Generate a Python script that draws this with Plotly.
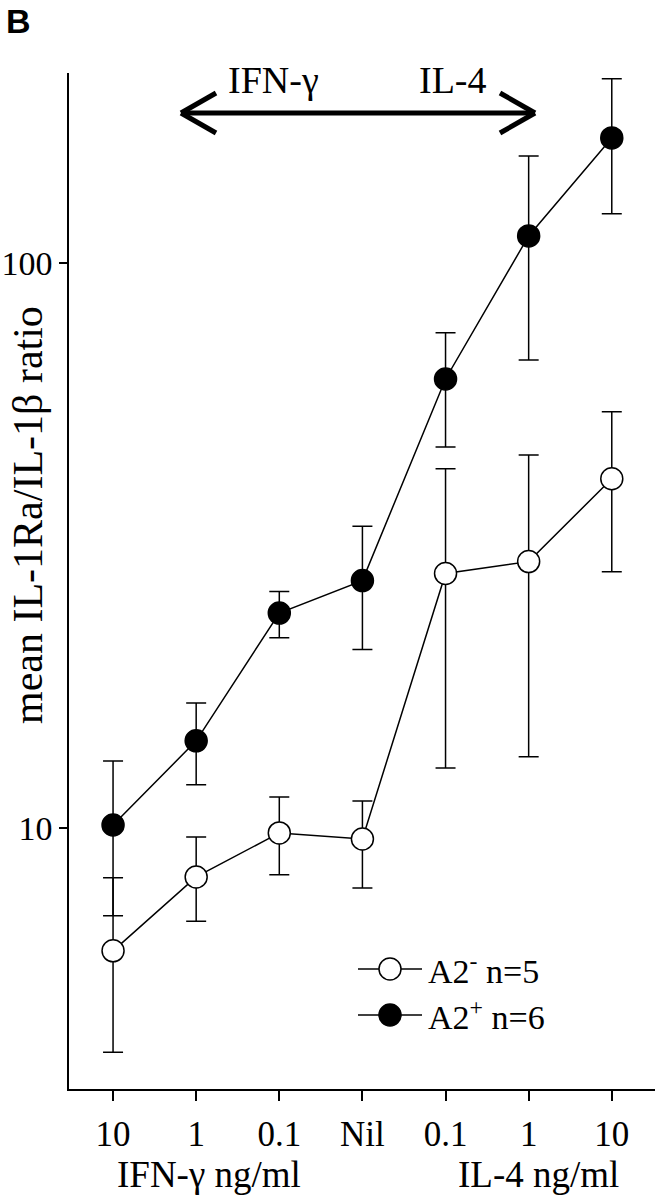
import plotly.graph_objects as go

# Categories (x positions 0..6)
tick_labels = ["10", "1", "0.1", "Nil", "0.1", "1", "10"]
xpos = [0, 1, 2, 3, 4, 5, 6]

# A2- (open circles)
a2neg_mean = [6.06, 8.19, 9.80, 9.56, 28.2, 29.6, 41.5]
a2neg_upper = [8.16, 9.64, 11.34, 11.16, 43.2, 45.7, 54.5]
a2neg_lower = [4.01, 6.84, 8.26, 7.83, 12.77, 13.36, 28.4]

# A2+ (filled circles)
a2pos_mean = [10.12, 14.26, 24.0, 27.4, 62.3, 111.6, 166.4]
a2pos_upper = [13.14, 16.64, 26.2, 34.2, 75.2, 154.6, 211.7]
a2pos_lower = [6.99, 11.92, 21.7, 20.7, 47.2, 67.3, 122.1]

series_names = ["A2<sup>-</sup> n=5", "A2<sup>+</sup> n=6"]
series_fill = ["white", "black"]

FONT = "Liberation Serif"
W, H = 658, 1199


def px(sx):  # window x -> paper x
    return (sx - 69) / 586


def py(sy):  # window y -> paper y
    return (1089 - sy) / 1016


def err(mean, up, lo):
    return dict(type="data", symmetric=False,
                array=[u - m for u, m in zip(up, mean)],
                arrayminus=[m - l for m, l in zip(mean, lo)],
                color="black", thickness=1.5, width=10)


fig = go.Figure()
for mean, up, lo, name, fill in [
    (a2neg_mean, a2neg_upper, a2neg_lower, series_names[0], series_fill[0]),
    (a2pos_mean, a2pos_upper, a2pos_lower, series_names[1], series_fill[1]),
]:
    fig.add_trace(go.Scatter(
        x=xpos, y=mean, mode="lines+markers", name=name, showlegend=False,
        line=dict(color="black", width=1.5),
        marker=dict(symbol="circle", size=22, color=fill,
                    line=dict(color="black", width=1.5)),
        error_y=err(mean, up, lo),
    ))

# Manual legend (paper coordinates)
leg_x0, leg_x1 = px(358), px(422)
leg_xc = (leg_x0 + leg_x1) / 2
for i, (name, fill) in enumerate(zip(series_names, series_fill)):
    yy = py(969 + i * 46)
    fig.add_shape(type="line", xref="paper", yref="paper", x0=leg_x0, x1=leg_x1,
                  y0=yy, y1=yy, line=dict(color="black", width=1.5))
    fig.add_shape(type="circle", xref="paper", yref="paper",
                  xsizemode="pixel", ysizemode="pixel", xanchor=leg_xc, yanchor=yy,
                  x0=-11, x1=11, y0=-11, y1=11,
                  fillcolor=fill, line=dict(color="black", width=1.5))
    fig.add_annotation(text=name, xref="paper", yref="paper", x=px(426), y=yy,
                       xanchor="left", yanchor="middle", showarrow=False,
                       font=dict(family=FONT, size=34, color="black"))

# Double-headed arrow (IFN-γ <-> IL-4)
ay = py(113)
x_l, x_r = px(181), px(535)
arrow_w = 5
fig.add_shape(type="line", xref="paper", yref="paper", x0=x_l, x1=x_r, y0=ay, y1=ay,
              line=dict(color="black", width=arrow_w))
head_dx = 35 / 586
head_dy = 20 / 1016
for xt, sgn in [(x_l, 1), (x_r, -1)]:
    for s in (1, -1):
        fig.add_shape(type="line", xref="paper", yref="paper",
                      x0=xt, y0=ay, x1=xt + sgn * head_dx, y1=ay + s * head_dy,
                      line=dict(color="black", width=arrow_w))

fig.add_annotation(text="IFN-γ", xref="paper", yref="paper", x=px(273), y=py(80),
                   showarrow=False, xanchor="center", yanchor="middle",
                   font=dict(family=FONT, size=38, color="black"))
fig.add_annotation(text="IL-4", xref="paper", yref="paper", x=px(453), y=py(80),
                   showarrow=False, xanchor="center", yanchor="middle",
                   font=dict(family=FONT, size=38, color="black"))

# Panel label
fig.add_annotation(text="<b>B</b>", xref="paper", yref="paper", x=px(4), y=py(21),
                   xanchor="left", yanchor="middle", showarrow=False,
                   font=dict(family="Liberation Sans", size=34, color="black"))

# X-axis group titles
fig.add_annotation(text="IFN-γ ng/ml", xref="paper", yref="paper", x=px(209),
                   y=py(1174), showarrow=False, xanchor="center", yanchor="middle",
                   font=dict(family=FONT, size=37, color="black"))
fig.add_annotation(text="IL-4 ng/ml", xref="paper", yref="paper", x=px(538),
                   y=py(1174), showarrow=False, xanchor="center", yanchor="middle",
                   font=dict(family=FONT, size=37, color="black"))

# Y-axis title
fig.add_annotation(text="mean IL-1Ra/IL-1β ratio", xref="paper", yref="paper",
                   x=px(28), y=py(515), textangle=-90,
                   showarrow=False, xanchor="center", yanchor="middle",
                   font=dict(family=FONT, size=42, color="black"))

fig.update_layout(
    width=W, height=H,
    margin=dict(l=69, r=3, t=73, b=110, autoexpand=False),
    paper_bgcolor="white", plot_bgcolor="white",
    showlegend=False,
    font=dict(family=FONT, color="black"),
)
fig.update_xaxes(
    range=[-0.53, 6.52], tickmode="array", tickvals=xpos, ticktext=tick_labels,
    showline=True, linecolor="black", linewidth=1.5, mirror=False,
    ticks="outside", ticklen=10, tickwidth=1.5, tickcolor="black",
    showgrid=False, zeroline=False, automargin=False, ticklabelstandoff=3,
    tickfont=dict(family=FONT, size=35, color="black"),
)
fig.update_yaxes(
    type="log", range=[0.538, 2.336], tickmode="array", tickvals=[10, 100],
    ticktext=["10", "100"],
    showline=True, linecolor="black", linewidth=1.5, mirror=False,
    ticks="outside", ticklen=8, tickwidth=1.5, tickcolor="black",
    showgrid=False, zeroline=False, automargin=False,
    tickfont=dict(family=FONT, size=34, color="black"),
)

# Remove the browser's default 8px body margin so the figure sits at the window origin.
fig.write_html("out.html", config={"displayModeBar": False},
               post_script="document.body.style.margin='0';document.body.style.overflow='hidden';")
